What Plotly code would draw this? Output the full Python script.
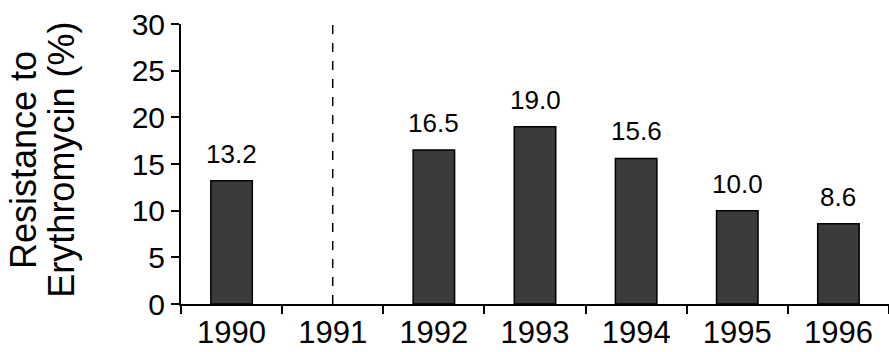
import plotly.graph_objects as go

# Erythromycin resistance by year (1991: no data, marked by a dashed line)
years = ["1990", "1991", "1992", "1993", "1994", "1995", "1996"]
resistance = [13.2, None, 16.5, 19.0, 15.6, 10.0, 8.6]
labels = ["13.2", "", "16.5", "19.0", "15.6", "10.0", "8.6"]
y_ticks = [0, 5, 10, 15, 20, 25, 30]
gap_year = "1991"
title_lines = ["Resistance to", "Erythromycin (%)"]

FONT = "Liberation Sans, Arial, Helvetica, sans-serif"

fig = go.Figure()
fig.add_trace(go.Bar(
    x=years,
    y=resistance,
    marker=dict(color="#3b3b3b", line=dict(color="black", width=1.5)),
    hoverinfo="x+y",
))

# dashed separator at the missing year
fig.add_trace(go.Scatter(
    x=[gap_year, gap_year],
    y=[0, max(y_ticks)],
    mode="lines",
    line=dict(color="black", width=1.5, dash="dash"),
    hoverinfo="skip",
))

# value labels above each bar (category index positions)
annotations = []
for idx, (val, lab) in enumerate(zip(resistance, labels)):
    if val is None:
        continue
    annotations.append(dict(
        x=idx, y=val, xref="x", yref="y", text=lab, showarrow=False,
        yanchor="bottom", yshift=10,
        font=dict(family=FONT, size=26, color="black"),
    ))

# two-line rotated axis title
for xpos, line in zip([-0.223, -0.170], title_lines):
    annotations.append(dict(
        x=xpos, y=0.5, xref="paper", yref="paper", text=line, showarrow=False,
        textangle=-90, xanchor="center", yanchor="middle", yshift=4,
        font=dict(family=FONT, size=36, color="black"),
    ))

fig.update_layout(
    width=889, height=352,
    margin=dict(l=181, r=0, t=24, b=48),
    paper_bgcolor="white",
    plot_bgcolor="white",
    bargap=0.59,
    showlegend=False,
    font=dict(family=FONT, color="black"),
    annotations=annotations,
)
fig.update_xaxes(
    type="category",
    categoryorder="array", categoryarray=years,
    range=[-0.5, len(years) - 0.5],
    showline=True, linecolor="black", linewidth=2,
    ticks="outside", tickson="boundaries", ticklen=8, tickwidth=2, tickcolor="black",
    tickfont=dict(family=FONT, size=31, color="black"),
    showgrid=False, zeroline=False,
)
fig.update_yaxes(
    range=[0, max(y_ticks)],
    tickvals=y_ticks,
    showline=True, linecolor="black", linewidth=2,
    ticks="outside", ticklen=8, tickwidth=2, tickcolor="black",
    tickfont=dict(family=FONT, size=30, color="black"),
    showgrid=False, zeroline=False,
)

fig.write_html("out.html")
